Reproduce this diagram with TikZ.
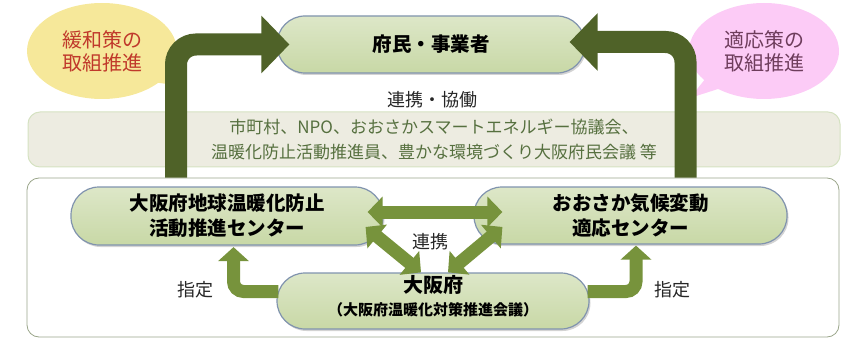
\documentclass[tikz,border=0pt]{standalone}
\usepackage{fontspec}
\setmainfont{Noto Sans CJK JP}
\usetikzlibrary{arrows.meta,shapes.callouts,shadows,calc}
\definecolor{darkarrow}{HTML}{4F6228}
\definecolor{lightarrow}{HTML}{77933C}
\definecolor{nodefillA}{HTML}{DDE7C8}
\definecolor{nodefillB}{HTML}{C8D8A6}
\definecolor{nodeborder}{HTML}{8093AE}
\definecolor{bandfill}{HTML}{EDECE1}
\definecolor{bandborder}{HTML}{D5E2C2}
\definecolor{bandtext}{HTML}{56703F}
\definecolor{framecol}{HTML}{9AA58A}
\definecolor{bubbleY}{HTML}{F6E89A}
\definecolor{bubbleP}{HTML}{FCCBF6}
\definecolor{redtext}{HTML}{C0392B}
\definecolor{mauvetext}{HTML}{6E3D5C}
\definecolor{labeltext}{HTML}{262626}
\begin{document}
\begin{tikzpicture}[x=1pt,y=1pt,
  pill/.style={draw=nodeborder, line width=1.2pt, top color=nodefillA, bottom color=nodefillB,
    rounded corners=28pt, inner sep=0pt, align=center,
    drop shadow={shadow xshift=1.5pt,shadow yshift=-2pt,opacity=0.35},
    font=\bfseries\fontsize{19.5}{25}\selectfont},
  bubble/.style={ellipse callout, minimum width=150pt, minimum height=96pt, inner sep=0pt,
    align=center, font=\fontsize{20}{23}\selectfont},
  label/.style={text=labeltext, inner sep=0pt, font=\fontsize{18}{20}\selectfont},
  bigarrow/.style={draw=darkarrow, line width=22pt, rounded corners=20pt,
    -{Triangle[length=28pt,width=56pt]}},
  duoarrow/.style={draw=lightarrow, line width=13pt,
    {Triangle[length=15pt,width=30pt]}-{Triangle[length=15pt,width=30pt]}},
  elbowarrow/.style={draw=lightarrow, line width=13pt, rounded corners=10pt,
    -{Triangle[length=14pt,width=30pt]}}
]
\useasboundingbox (0,0) rectangle (844,338);
% frame and band
\node[draw=framecol, line width=0.8pt, rounded corners=12pt, minimum width=812pt,
  minimum height=159pt, inner sep=0pt] (frame) at (433,80.5) {};
\node[draw=bandborder, line width=1pt, fill=bandfill, rounded corners=12pt,
  minimum width=812pt, minimum height=55pt, inner sep=0pt, align=center,
  text=bandtext, font=\fontsize{17}{25}\selectfont] (band) at (434,198.5)
  {市町村、NPO、おおさかスマートエネルギー協議会、\\温暖化防止活動推進員、豊かな環境づくり大阪府民会議 等};
% bubbles
\node[bubble, fill=bubbleY, text=redtext, callout absolute pointer={(183,252)}] (lbub) at (102,287) {緩和策の\\取組推進};
\node[bubble, fill=bubbleP, text=mauvetext, callout absolute pointer={(690,240)}] (rbub) at (764,287) {適応策の\\取組推進};
% nodes
\node[pill, minimum width=308pt, minimum height=57pt] (top) at (431,293.5) {府民・事業者};
\node[pill, minimum width=312pt, minimum height=58pt] (lnode) at (227,122) {大阪府地球温暖化防止\\活動推進センター};
\node[pill, minimum width=313pt, minimum height=57pt] (rnode) at (630.5,122.5) {おおさか気候変動\\適応センター};
\node[pill, minimum width=312pt, minimum height=56pt] (bnode) at (433,37)
  {\smash{\raisebox{-3pt}{\begin{tabular}{@{}c@{}}{\fontsize{20}{22}\selectfont 大阪府}\\[-2pt]{\fontsize{15}{16}\selectfont （大阪府温暖化対策推進会議）}\end{tabular}}}};
% labels
\node[label] (collab) at (432,238) {連携・協働};
\node[label] (renkei) at (430,96) {連携};
\node[label] (shiteiL) at (195,48) {指定};
\node[label] (shiteiR) at (672,48) {指定};
% big arrows
\draw[bigarrow] (176,0 |- frame.north) -- (176,293.5) -- ($(top.west)+(13,0)$);
\draw[bigarrow] (685.5,0 |- frame.north) -- (685.5,296) -- ($(top.east)+(-16,2.5)$);
% light arrows
\draw[duoarrow] ($(lnode.east)+(-16,4)$) -- ($(rnode.west)+(29,3.5)$);
\draw[duoarrow] ($(lnode.east)+(-18,-11)$) -- ($(bnode.north)+(-12,0)$);
\draw[duoarrow] ($(rnode.west)+(29,-11.5)$) -- ($(bnode.north)+(15,0)$);
\draw[elbowarrow] ($(bnode.west)+(2,9.5)$) -| ($(lnode.south)+(6.5,-1.5)$);
\draw[elbowarrow] ($(bnode.east)+(-2,9.5)$) -| ($(rnode.south)+(5.5,-1)$);
\end{tikzpicture}
\end{document}
